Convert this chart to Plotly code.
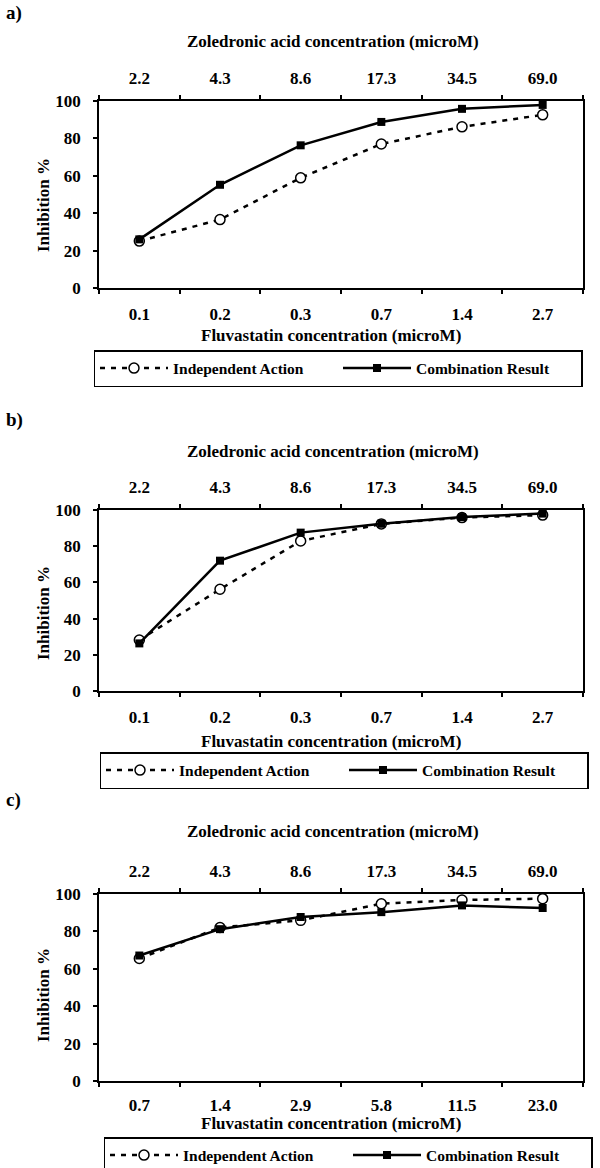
import plotly.graph_objects as go

# category labels
fluva_ab = ["0.1", "0.2", "0.3", "0.7", "1.4", "2.7"]
fluva_c = ["0.7", "1.4", "2.9", "5.8", "11.5", "23.0"]
zoledronic = ["2.2", "4.3", "8.6", "17.3", "34.5", "69.0"]

# inhibition %
a_independent = [25.1, 36.6, 58.9, 77.0, 86.2, 92.6]
a_combination = [26.0, 55.2, 76.3, 88.8, 95.8, 97.9]
b_independent = [28.2, 56.2, 82.9, 92.3, 95.8, 97.2]
b_combination = [26.3, 72.0, 87.5, 92.4, 96.1, 98.0]
c_independent = [65.5, 82.1, 85.9, 94.8, 96.8, 97.5]
c_combination = [67.1, 81.2, 87.7, 90.3, 93.9, 92.5]

W, H = 600, 1168
FONT = "Liberation Serif"


def py(px):
    return 1 - px / H


def px_x(px):
    return px / W


panels = [
    dict(tag="a)", fluva=fluva_ab, ind=a_independent, comb=a_combination,
         top=101, bottom=288, tag_y=13, ztitle_y=42, ftitle_y=335, ytitle_y=205,
         leg_y=350, leg_x=338, tick_off=10),
    dict(tag="b)", fluva=fluva_ab, ind=b_independent, comb=b_combination,
         top=510, bottom=691, tag_y=420, ztitle_y=451, ftitle_y=741, ytitle_y=613,
         leg_y=752, leg_x=344, tick_off=10),
    dict(tag="c)", fluva=fluva_c, ind=c_independent, comb=c_combination,
         top=894, bottom=1081, tag_y=800, ztitle_y=831, ftitle_y=1123, ytitle_y=995,
         leg_y=1137, leg_x=348, tick_off=8),
]

fig = go.Figure()
annotations = []
x_dom = [px_x(99), px_x(583)]
bold = dict(family=FONT, size=17, color="black", weight="bold")

for i, p in enumerate(panels):
    n = i + 1
    xb = "x" if n == 1 else f"x{2 * n - 1}"
    xt = f"x{2 * n}"
    ya = "y" if n == 1 else f"y{n}"
    leg = "legend" if n == 1 else f"legend{n}"

    fig.add_trace(go.Scatter(
        x=p["fluva"], y=p["ind"], name="Independent Action",
        mode="lines+markers", xaxis=xb, yaxis=ya, legend=leg,
        line=dict(color="black", width=2.5, dash="5px,6px"),
        marker=dict(symbol="circle", size=10, color="white",
                    line=dict(color="black", width=1.5)),
    ))
    fig.add_trace(go.Scatter(
        x=p["fluva"], y=p["comb"], name="Combination Result",
        mode="lines+markers", xaxis=xb, yaxis=ya, legend=leg,
        line=dict(color="black", width=2.5),
        marker=dict(symbol="square", size=8, color="black"),
    ))
    # carries the zoledronic categories for the top axis
    fig.add_trace(go.Scatter(
        x=zoledronic, y=p["comb"], mode="none", xaxis=xt, yaxis=ya,
        showlegend=False, hoverinfo="skip",
    ))

    y_dom = [py(p["bottom"]), py(p["top"])]
    axis_common = dict(
        type="category", range=[-0.5, 5.5], tickson="boundaries",
        ticks="outside", ticklen=4, tickwidth=1.5, tickcolor="black",
        showline=True, linecolor="black", linewidth=1.5,
        showgrid=False, zeroline=False, tickfont=bold,
    )
    fig.update_layout({
        ("xaxis" if n == 1 else f"xaxis{2 * n - 1}"): dict(
            axis_common, domain=x_dom, anchor=ya, side="bottom", mirror=True,
            ticklabelstandoff=p["tick_off"],
        ),
        f"xaxis{2 * n}": dict(
            axis_common, domain=x_dom, anchor=ya, side="top",
            overlaying=xb, ticklabelstandoff=8,
        ),
        ("yaxis" if n == 1 else f"yaxis{n}"): dict(
            domain=y_dom, anchor=xb, range=[0, 100], tickvals=[0, 20, 40, 60, 80, 100],
            ticks="outside", ticklen=4, tickwidth=1.5, tickcolor="black",
            showline=True, linecolor="black", linewidth=1.5, mirror=True,
            showgrid=False, zeroline=False, tickfont=bold, ticklabelstandoff=9,
        ),
        leg: dict(
            orientation="h", x=px_x(p["leg_x"]), xanchor="center",
            y=py(p["leg_y"]), yanchor="top", yref="paper",
            bordercolor="black", borderwidth=1.5, bgcolor="white",
            font=dict(family=FONT, size=15.5, color="black", weight="bold"),
            entrywidth=160, itemwidth=68,
        ),
    })

    title_font = dict(family=FONT, size=17, color="black", weight="bold")
    annotations += [
        dict(text=p["tag"], x=px_x(4), y=py(p["tag_y"]), xanchor="left",
             yanchor="middle", font=dict(family=FONT, size=19, color="black", weight="bold")),
        dict(text="Zoledronic acid concentration (microM)", x=px_x(333),
             y=py(p["ztitle_y"]), xanchor="center", yanchor="middle", font=title_font),
        dict(text="Fluvastatin concentration (microM)", x=px_x(331),
             y=py(p["ftitle_y"]), xanchor="center", yanchor="middle", font=title_font),
        dict(text="Inhibition %", x=px_x(43), y=py(p["ytitle_y"]), textangle=-90,
             xanchor="center", yanchor="middle", font=title_font),
    ]

for a in annotations:
    a.update(xref="paper", yref="paper", showarrow=False)

fig.update_layout(
    width=W, height=H,
    margin=dict(l=0, r=0, t=0, b=0, autoexpand=False),
    paper_bgcolor="white", plot_bgcolor="white",
    font=dict(family=FONT, color="black"),
    annotations=annotations,
)

# the page's default 8px body margin would shift the whole figure
fig.write_html("out.html", config={"displayModeBar": False},
               post_script="document.body.style.margin = '0';")
